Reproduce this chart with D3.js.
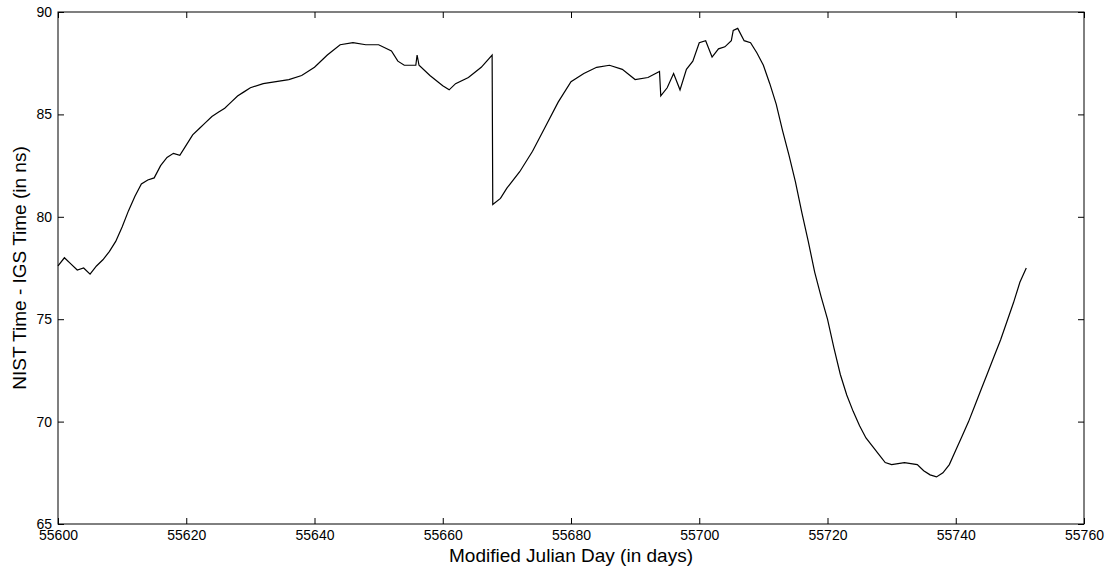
<!DOCTYPE html>
<html><head><meta charset="utf-8">
<script src="https://cdn.jsdelivr.net/npm/d3@7"></script>
<style>body{margin:0;background:#fff}text{font-family:Arial,"Liberation Sans",sans-serif}</style>
</head><body><svg id="c" width="1110" height="567"></svg>
<script>
const days=[55600,55601,55602,55603,55604,55605,55606,55607,55608,55609,55610,55611,55612,55613,55614,55615,55616,55617,55618,55619,55620,55621,55622,55623,55624,55625,55626,55627,55628,55629,55630,55632,55634,55636,55638,55640,55642,55644,55646,55648,55650,55652,55653,55654,55655.8,55656,55656.3,55658,55660,55661,55662,55664,55666,55667.7,55667.8,55669,55670,55672,55674,55676,55678,55680,55682,55684,55686,55688,55690,55692,55693.8,55694,55695,55696,55697,55698,55699,55700,55701,55702,55703,55704,55705,55705.3,55706,55707,55708,55709,55710,55711,55712,55713,55714,55715,55716,55717,55718,55719,55720,55721,55722,55723,55724,55725,55726,55727,55728,55729,55730,55732,55734,55735,55736,55737,55738,55739,55740,55741,55742,55743,55744,55745,55746,55747,55748,55749,55750,55751];
const offsets=[77.6,78.0,77.7,77.4,77.5,77.2,77.6,77.9,78.3,78.8,79.5,80.3,81.0,81.6,81.8,81.9,82.5,82.9,83.1,83.0,83.5,84.0,84.3,84.6,84.9,85.1,85.3,85.6,85.9,86.1,86.3,86.5,86.6,86.7,86.9,87.3,87.9,88.4,88.5,88.4,88.4,88.1,87.6,87.4,87.4,87.9,87.4,86.9,86.4,86.2,86.5,86.8,87.3,87.9,80.6,80.9,81.4,82.2,83.2,84.4,85.6,86.6,87.0,87.3,87.4,87.2,86.7,86.8,87.1,85.9,86.3,87.0,86.2,87.2,87.6,88.5,88.6,87.8,88.2,88.3,88.6,89.1,89.2,88.6,88.5,88.0,87.4,86.5,85.5,84.2,83.0,81.7,80.2,78.8,77.3,76.1,75.0,73.6,72.3,71.3,70.5,69.8,69.2,68.8,68.4,68.0,67.9,68.0,67.9,67.6,67.4,67.3,67.5,67.9,68.6,69.3,70.0,70.8,71.6,72.4,73.2,74.0,74.9,75.8,76.8,77.5];
const xTicks=[55600,55620,55640,55660,55680,55700,55720,55740,55760];
const yTicks=[65,70,75,80,85,90];
const L=58,R=1084,T=12,B=524;
const svg=d3.select("#c");
const x=d3.scaleLinear().domain([55600,55760]).range([L,R]);
const y=d3.scaleLinear().domain([65,90]).range([B,T]);
svg.append("rect").attr("x",L).attr("y",T).attr("width",R-L).attr("height",B-T).attr("fill","none").attr("stroke","#000");
const fmt=d3.format("d");
svg.append("g").attr("transform",`translate(0,${B})`).call(d3.axisBottom(x).tickValues(xTicks).tickFormat(fmt).tickSizeInner(-6).tickSizeOuter(0).tickPadding(6));
svg.append("g").attr("transform",`translate(0,${T})`).call(d3.axisTop(x).tickValues(xTicks).tickFormat("").tickSizeInner(-6).tickSizeOuter(0));
svg.append("g").attr("transform",`translate(${L},0)`).call(d3.axisLeft(y).tickValues(yTicks).tickFormat(fmt).tickSizeInner(-6).tickSizeOuter(0).tickPadding(6));
svg.append("g").attr("transform",`translate(${R},0)`).call(d3.axisRight(y).tickValues(yTicks).tickFormat("").tickSizeInner(-6).tickSizeOuter(0));
svg.selectAll(".domain").remove();
svg.selectAll(".tick text").attr("font-size",14).attr("fill","#000");
const data=days.map((d,i)=>[d,offsets[i]]);
svg.append("path").datum(data).attr("fill","none").attr("stroke","#000").attr("stroke-width",1.2)
 .attr("d",d3.line().x(d=>x(d[0])).y(d=>y(d[1])));
svg.append("text").attr("x",(L+R)/2).attr("y",562).attr("text-anchor","middle").attr("font-size",19).text("Modified Julian Day (in days)");
svg.append("text").attr("transform",`translate(26,${(T+B)/2}) rotate(-90)`).attr("text-anchor","middle").attr("font-size",19).text("NIST Time - IGS Time (in ns)");
</script></body></html>
